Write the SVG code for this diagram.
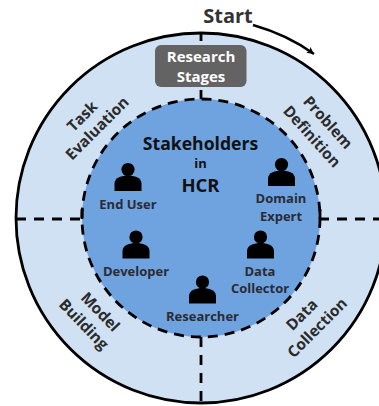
<svg xmlns="http://www.w3.org/2000/svg" width="379" height="406" viewBox="0 0 379 406">
<style>
text{font-family:"Open Sans","Noto Sans","Liberation Sans",sans-serif;font-weight:700;fill:#2b2b33;text-anchor:middle}
.r{font-size:15.4px;fill:#2b2b2b}
.s{font-size:13px}
.d{fill:none;stroke:#000;stroke-width:2.8;stroke-dasharray:10 7}
.c{fill:none;stroke:#000;stroke-width:2.8;stroke-dasharray:10 8}
</style>
<defs>
<g id="p"><circle cx="0" cy="-9" r="6.6" fill="#000"/><path d="M-13.5 12.5V5C-13.5 -1 -6 -3 0 -3S13.5 -1 13.5 5V12.5Z" fill="#000"/></g>
<marker id="a" markerWidth="10" markerHeight="10" refX="7" refY="4" orient="auto" markerUnits="userSpaceOnUse"><path d="M0 0.5L7 4L0 7.5L1.5 4Z" fill="#000"/></marker>
</defs>
<g id="outer-ring"><circle cx="201" cy="218" r="185" fill="#d0e1f4" stroke="#000" stroke-width="2.8"/></g>
<g id="inner-circle"><circle cx="201" cy="218" r="119" fill="#6fa3e0"/><circle class="d" cx="201" cy="218" r="119"/></g>
<g id="connectors">
<path d="M201 34V41M201 90V99M82 209V219M320 209V219" fill="none" stroke="#000" stroke-width="2.8"/>
<path class="c" d="M16 219H83"/>
<path class="c" d="M319 219H379"/>
<path class="c" d="M201 337V403"/>
<path d="M253 25Q288 35 314 54" fill="none" stroke="#000" stroke-width="2.4" marker-end="url(#a)"/>
</g>
<g id="start"><text x="228" y="22.5" style="font-size:20px;fill:#333">Start</text></g>
<g id="research-stages"><rect x="155" y="45" width="91.500" height="42" rx="6" fill="#636363"/><text x="201" y="62" style="font-size:15px;fill:#fff">Research</text><text x="201" y="82" style="font-size:15px;fill:#fff">Stages</text></g>
<g id="problem-definition"><text class="r" transform="translate(324 126) rotate(48)">Problem</text><text class="r" transform="translate(308 140) rotate(48)">Definition</text></g>
<g id="task-evaluation"><text class="r" transform="translate(86 120) rotate(-45)">Task</text><text class="r" transform="translate(101 132) rotate(-45)">Evaluation</text></g>
<g id="model-building"><text class="r" transform="translate(96.500 315.500) rotate(46)">Model</text><text class="r" transform="translate(80 328) rotate(46)">Building</text></g>
<g id="data-collection"><text class="r" transform="translate(305.500 318.500) rotate(-45)">Data</text><text class="r" transform="translate(321 331.500) rotate(-45)">Collection</text></g>
<g id="title"><text x="200.500" y="150" style="font-size:17.6px;fill:#111">Stakeholders</text><text x="200.500" y="168" style="font-size:13px;fill:#111">in</text><text x="200.500" y="191.500" style="font-size:18.500px;fill:#111">HCR</text></g>
<g id="end-user"><use href="#p" x="128" y="178.500"/><text class="s" x="128" y="208.500">End User</text></g>
<g id="domain-expert"><use href="#p" x="281.500" y="173.500"/><text class="s" x="281" y="203">Domain</text><text class="s" x="281" y="220.500">Expert</text></g>
<g id="developer"><use href="#p" x="136" y="246"/><text class="s" x="136" y="275.500">Developer</text></g>
<g id="data-collector"><use href="#p" x="260.500" y="246"/><text class="s" x="260" y="275.500">Data</text><text class="s" x="260" y="292.500">Collector</text></g>
<g id="researcher"><use href="#p" x="202.500" y="291"/><text class="s" x="202.500" y="320.500">Researcher</text></g>
</svg>
